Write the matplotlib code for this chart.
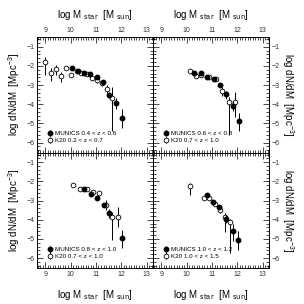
import numpy as np
import matplotlib.pyplot as plt
from matplotlib.ticker import MultipleLocator

plt.rcParams['font.family'] = ['Liberation Sans', 'DejaVu Sans']
plt.rcParams['mathtext.default'] = 'regular'

# panel labels
munics_lab = ['MUNICS 0.4 < z < 0.6', 'MUNICS 0.6 < z < 0.8',
              'MUNICS 0.8 < z < 1.0', 'MUNICS 1.0 < z < 1.2']
k20_lab = ['K20 0.2 < z < 0.7', 'K20 0.7 < z < 1.0',
           'K20 0.7 < z < 1.0', 'K20 1.0 < z < 1.5']

# MUNICS (filled) : x, y, err_lo, err_hi
mun_x = [
    [10.04, 10.28, 10.53, 10.78, 11.04, 11.29, 11.53, 11.79, 12.03],
    [10.30, 10.56, 10.81, 11.06, 11.31, 11.57, 11.81, 12.06],
    [10.54, 10.80, 11.03, 11.30, 11.53, 12.03],
    [10.81, 11.04, 11.29, 11.56, 11.81, 12.04],
]
mun_y = [
    [-2.10, -2.26, -2.35, -2.40, -2.58, -2.82, -3.51, -3.91, -4.72],
    [-2.39, -2.39, -2.56, -2.69, -2.98, -3.48, -4.07, -4.89],
    [-2.42, -2.65, -2.85, -3.24, -3.64, -4.96],
    [-2.71, -3.05, -3.34, -3.96, -4.59, -5.06],
]
mun_elo = [
    [0.08, 0.06, 0.06, 0.06, 0.08, 0.10, 0.15, 0.32, 0.50],
    [0.06, 0.06, 0.06, 0.08, 0.10, 0.25, 0.30, 0.50],
    [0.06, 0.06, 0.08, 0.12, 0.25, 0.50],
    [0.08, 0.08, 0.12, 0.22, 0.50, 0.50],
]
mun_ehi = [
    [0.08, 0.06, 0.06, 0.06, 0.08, 0.10, 0.15, 0.25, 0.45],
    [0.06, 0.06, 0.06, 0.08, 0.10, 0.15, 0.25, 0.45],
    [0.06, 0.06, 0.08, 0.12, 0.20, 0.45],
    [0.08, 0.08, 0.12, 0.20, 0.35, 0.45],
]

# K20 (open)
k20_x = [
    [9.00, 9.22, 9.42, 9.63, 9.83, 10.03, 10.24, 10.43, 10.63, 10.84, 11.04, 11.24, 11.45, 11.64],
    [10.15, 10.36, 10.58, 10.87, 11.16, 11.40, 11.65, 11.90],
    [10.11, 10.38, 10.64, 10.88, 11.12, 11.39, 11.62, 11.87],
    [10.12, 10.69, 10.88, 11.11, 11.32, 11.51, 11.71],
]
k20_y = [
    [-1.79, -2.35, -2.18, -2.53, -2.09, -2.46, -2.26, -2.35, -2.40, -2.63, -2.75, -2.89, -3.18, -3.67],
    [-2.25, -2.54, -2.46, -2.60, -2.69, -3.30, -3.88, -3.88],
    [-2.19, -2.42, -2.40, -2.57, -2.63, -3.24, -3.83, -3.83],
    [-2.24, -2.84, -2.88, -3.17, -3.48, -3.85, -4.12],
]
k20_elo = [
    [0.70, 0.45, 0.30, 0.30, 0.10, 0.12, 0.10, 0.08, 0.08, 0.12, 0.12, 0.18, 0.25, 1.70],
    [0.12, 0.08, 0.08, 0.08, 0.10, 0.25, 1.70, 0.80],
    [0.10, 0.08, 0.08, 0.08, 0.10, 0.25, 1.20, 0.55],
    [0.45, 0.10, 0.10, 0.12, 0.15, 0.80, 1.60],
]
k20_ehi = [
    [0.25, 0.25, 0.20, 0.20, 0.10, 0.10, 0.08, 0.08, 0.08, 0.10, 0.10, 0.15, 0.20, 0.55],
    [0.10, 0.08, 0.08, 0.08, 0.10, 0.20, 0.25, 0.50],
    [0.10, 0.08, 0.08, 0.08, 0.10, 0.25, 0.25, 0.50],
    [0.15, 0.10, 0.10, 0.12, 0.15, 0.20, 0.15],
]

fig = plt.figure(figsize=(3.04, 3.04), dpi=100)
L, W = 0.122, 0.382
B0, H = 0.118, 0.380
pos = [(L, B0 + H), (L + W, B0 + H), (L, B0), (L + W, B0)]

xlab = r'log M $_{\rm star}$  [M $_{\rm sun}$]'
ylab = r'log dN/dM  [Mpc$^{-3}$]'

for i in range(4):
    ax = fig.add_axes([pos[i][0], pos[i][1], W, H])
    ax.errorbar(mun_x[i], mun_y[i], yerr=[mun_elo[i], mun_ehi[i]], fmt='o',
                color='k', ms=3.2, mfc='k', mec='k', elinewidth=0.7, capsize=0,
                label=munics_lab[i], zorder=3)
    ax.errorbar(k20_x[i], k20_y[i], yerr=[k20_elo[i], k20_ehi[i]], fmt='o',
                color='k', ms=3.4, mfc='white', mec='k', mew=0.6, elinewidth=0.7,
                capsize=0, label=k20_lab[i], zorder=2)
    ax.set_xlim(8.68, 13.26)
    ax.set_ylim(-6.52, -0.5)
    ax.xaxis.set_major_locator(MultipleLocator(1))
    ax.xaxis.set_minor_locator(MultipleLocator(0.1))
    ax.yaxis.set_major_locator(MultipleLocator(1))
    ax.yaxis.set_minor_locator(MultipleLocator(0.2))
    ax.tick_params(which='both', direction='in', top=True, bottom=True,
                   left=True, right=True, labelsize=5, pad=2, width=0.5,
                   labelcolor='#333333')
    ax.tick_params(which='major', length=4)
    ax.tick_params(which='minor', length=2)
    for s in ax.spines.values():
        s.set_linewidth(0.7)
    top = i < 2
    right = i % 2 == 1
    ax.tick_params(labeltop=top, labelbottom=not top,
                   labelleft=not right, labelright=right)
    if top:
        ax.xaxis.set_label_position('top')
    ax.set_xlabel(xlab, fontsize=7, labelpad=7)
    if right:
        ax.yaxis.set_label_position('right')
        ax.set_ylabel(ylab, fontsize=7, rotation=270, labelpad=11)
    else:
        ax.set_ylabel(ylab, fontsize=7, labelpad=3)
    ax.legend(loc='lower left', frameon=False, fontsize=4.5, handlelength=1,
              handletextpad=0.4, borderaxespad=1.1, labelspacing=0.25)

fig.savefig('out.png', dpi=100)
